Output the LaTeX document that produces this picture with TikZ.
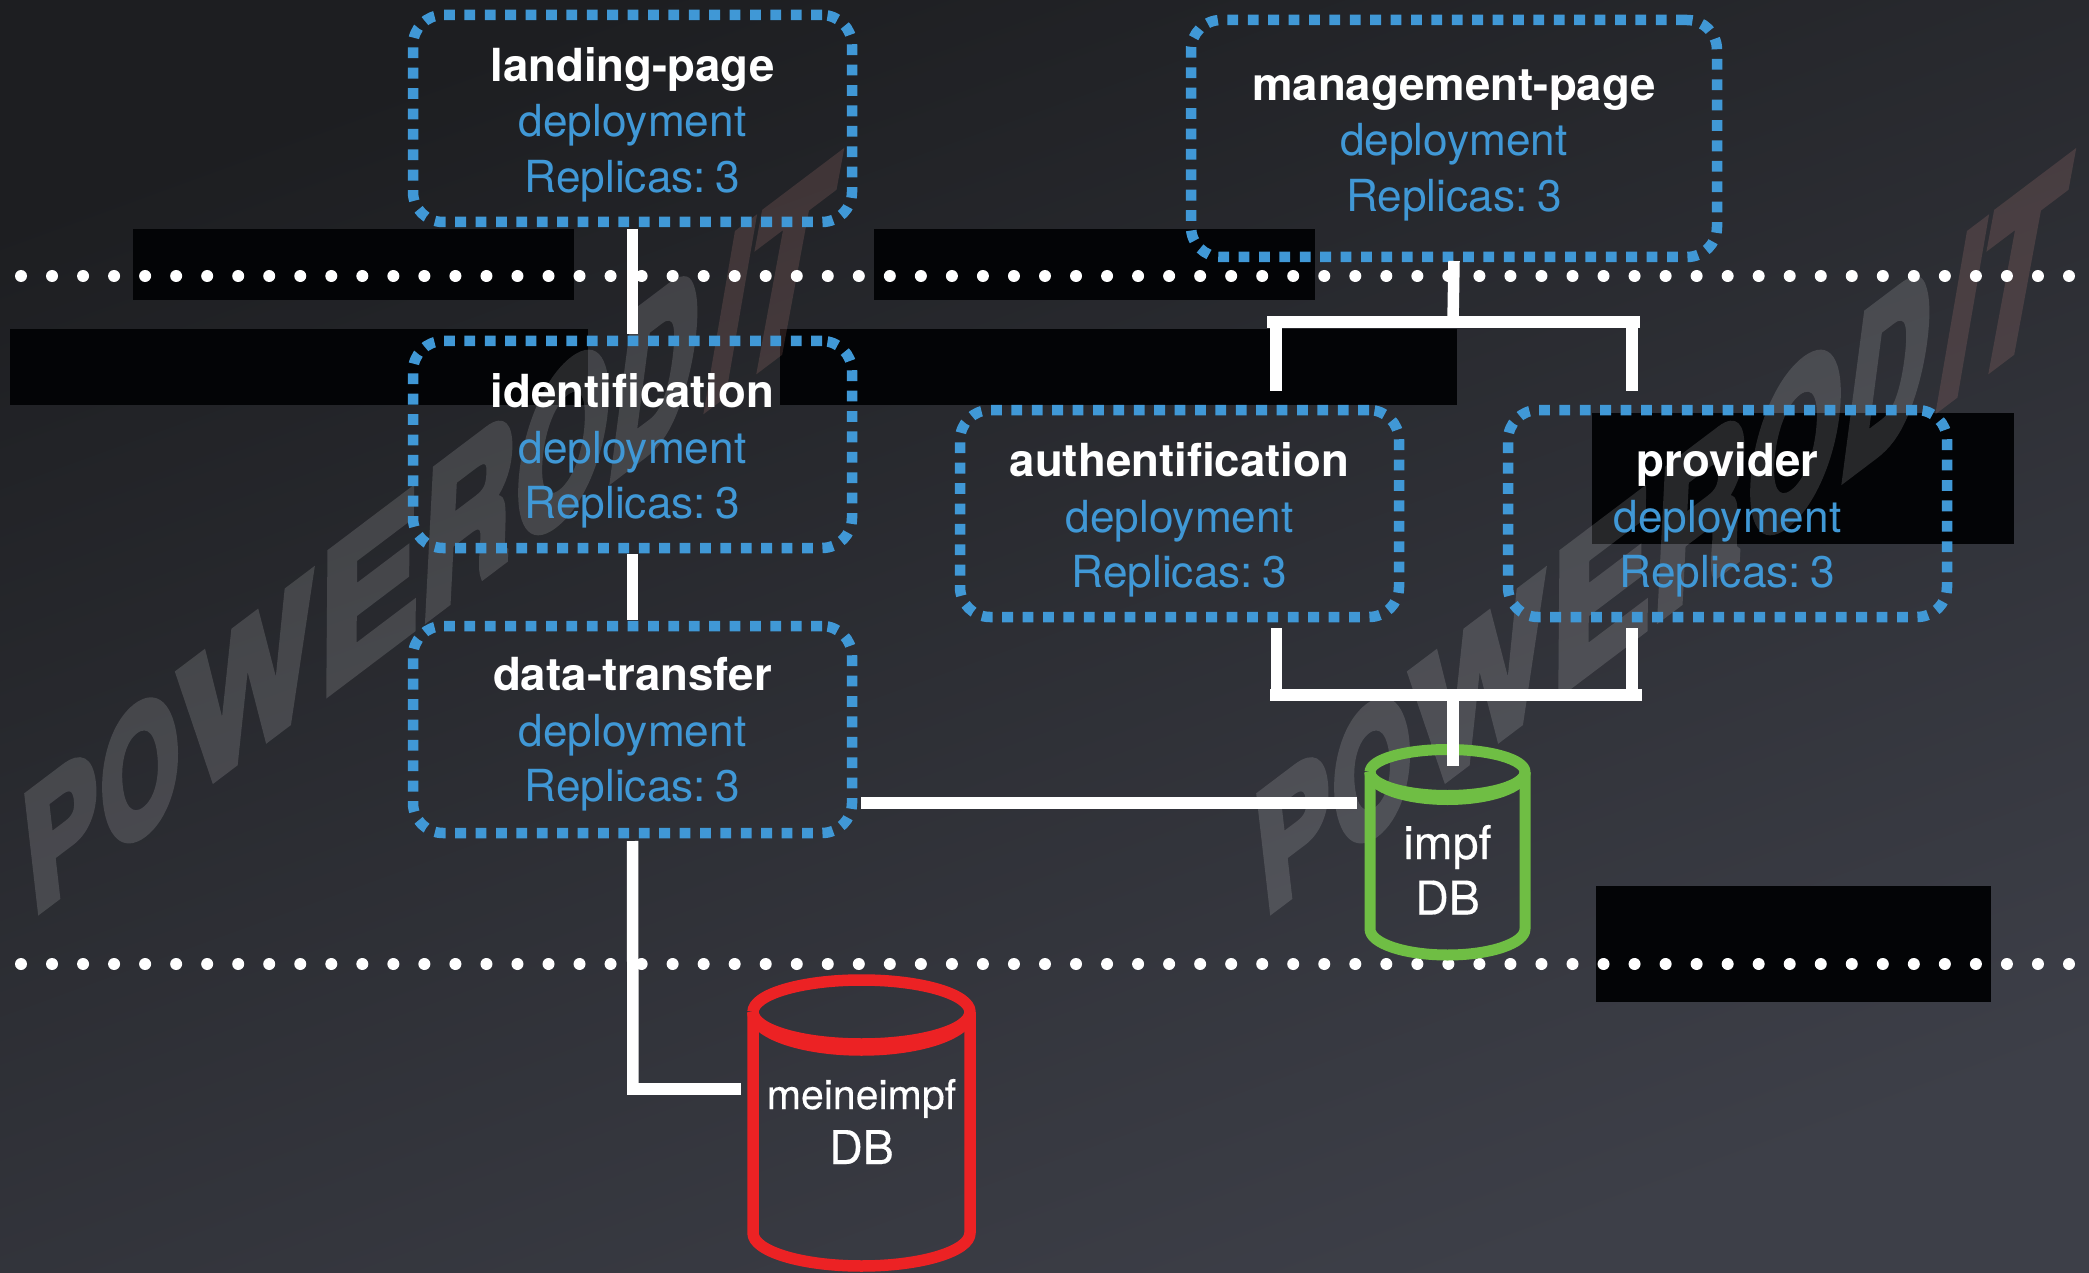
\documentclass[tikz,border=0pt]{standalone}
\usepackage{fontspec}
\setmainfont{TeX Gyre Heros}
\newfontfamily\wmfont[FakeBold=5]{TeX Gyre Heros}
\newfontfamily\dbfont[FakeBold=0.3]{TeX Gyre Heros}
\definecolor{bgtop}{HTML}{1D1E21}
\definecolor{bgbot}{HTML}{3D3F48}
\definecolor{patch}{HTML}{030406}
\definecolor{depblue}{HTML}{4098D6}
\definecolor{dbgreen}{HTML}{6FBE44}
\definecolor{dbred}{HTML}{EC2224}
\definecolor{itred}{HTML}{FBA79E}
\newcommand{\boxlines}[2][47pt]{\rule{0pt}{#1}{\fontsize{45.6pt}{55.5pt}\selectfont\bfseries\color{white}#2}\\\textcolor{depblue}{deployment}\\\textcolor{depblue}{Replicas:\hspace{.22em}3}\rule[-10pt]{0pt}{0pt}}
\tikzset{
  depbox/.style={draw=depblue,line width=10.5pt,dash pattern=on 10.8pt off 9.6pt,rounded corners=30pt,
    inner sep=0pt,outer sep=0pt,align=center,minimum height=207pt,minimum width=439pt,
    font=\fontsize{44.2pt}{55.5pt}\selectfont},
  link/.style={draw=white,line width=11.5pt},
  dotline/.style={draw=white,line width=12pt,line cap=round,dash pattern=on 0pt off 31.03pt},
  dbtext/.style={text=white,align=center,inner sep=0pt,font=\fontsize{46.5pt}{56pt}\dbfont\selectfont},
  wm/.style={transform shape,anchor=base west,inner sep=0pt,
    font=\fontsize{158pt}{158pt}\wmfont\bfseries\selectfont},
}
\begin{document}
\begin{tikzpicture}[x=1pt,y=-1pt]
\useasboundingbox (0,0) rectangle (2089,1273);
% background
\shade[top color=bgtop,bottom color=bgbot,shading angle=20] (0,0) rectangle (2089,1273);
% black patches
\fill[patch] (133,229) rectangle (574,300);
\fill[patch] (874,229) rectangle (1315,300);
\fill[patch] (10,329) rectangle (588,405);
\fill[patch] (780,329) rectangle (1457,405);
\fill[patch] (1592,413) rectangle (2014,544);
\fill[patch] (1596,886) rectangle (1991,1002);
% watermark, one letter at a time (it widens towards the right)
\begin{scope}[transparency group,opacity=.14]
\foreach \ox in {0,1232}{
  \foreach \lx/\la/\lt [count=\li] in {32/.70/P,106/.63/O,184/.90/W,318/.95/E,418/.81/R,510/.75/O,604/.72/D,700/.70/I,730/.82/T}{
    \pgfmathsetmacro{\ls}{1+.00075*(\lx-32)}
    \pgfmathsetmacro{\ly}{916-.755*(\lx-32)}
    \pgfmathsetmacro{\lc}{(-.114+.00042*(\lx-32))*\ls}
    \pgfmathsetmacro{\ld}{.993*\ls}
    \pgfmathsetmacro{\lb}{\la*.755}
    \pgfmathsetmacro{\lpx}{\lx+\ox}
    \begin{scope}[shift={(\lpx,\ly)},cm={\la,\lb,\lc,\ld,(0,0)}]
      \node[wm,text=\ifnum\li>7 itred\else white\fi] (wm\ox-\li) at (0,0) {\lt};
    \end{scope}
  }
}
\end{scope}
% dotted lines
\coordinate (dotAl) at (21,276);
\coordinate (dotAr) at (2075,276);
\coordinate (dotBl) at (21,964);
\coordinate (dotBr) at (2075,964);
\draw[dotline] (dotAl) -- (dotAr);
\draw[dotline] (dotBl) -- (dotBr);
% deployment boxes
\node[depbox] (landing) at (632.5,118.5) {\boxlines{landing-page}};
\node[depbox] (ident) at (632.5,444.5) {\boxlines{identification}};
\node[depbox] (data) at (632.5,729.5) {\boxlines[43pt]{data-transfer}};
\node[depbox,minimum width=526pt,minimum height=237pt] (mgmt) at (1454,138.5) {\boxlines[45pt]{management-page}};
\node[depbox] (auth) at (1179.5,513.5) {\boxlines{authentification}};
\node[depbox] (prov) at (1727.5,513.5) {\boxlines{provider}};
% db labels
\node[dbtext,anchor=base] (impf) at (1447.5,859) {impf};
\node[dbtext,anchor=base] (impfb) at (1447.5,914.5) {DB};
\node[dbtext,anchor=base,font=\fontsize{41pt}{50pt}\dbfont\selectfont] (meine) at (861.5,1109) {meineimpf};
\node[dbtext,anchor=base] (meineb) at (861.5,1164) {DB};
% green cylinder
\draw[dbgreen,line width=11pt,line join=round]
  (1370,772) arc[start angle=180,end angle=0,x radius=77.5pt,y radius=22.5pt]
  arc[start angle=0,end angle=-180,x radius=77.5pt,y radius=23.5pt];
\draw[dbgreen,line width=11pt,line join=round]
  (1370,772) arc[start angle=180,end angle=360,x radius=77.5pt,y radius=27.5pt];
\draw[dbgreen,line width=11pt,line join=round]
  (1370,772) -- (1370,929) arc[start angle=180,end angle=360,x radius=77.5pt,y radius=26pt] -- (1525,772);
% red cylinder
\draw[dbred,line width=11.5pt,line join=round]
  (753,1012) arc[start angle=180,end angle=0,x radius=108.5pt,y radius=32pt]
  arc[start angle=0,end angle=-180,x radius=108.5pt,y radius=32pt];
\draw[dbred,line width=11.5pt,line join=round]
  (753,1012) arc[start angle=180,end angle=360,x radius=108.5pt,y radius=38pt];
\draw[dbred,line width=11.5pt,line join=round]
  (753,1012) -- (753,1233) arc[start angle=180,end angle=360,x radius=108.5pt,y radius=33pt] -- (970,1012);
% connectors
\coordinate (tjl) at (1267,322);
\coordinate (tjr) at (1640,322);
\coordinate (tjm) at (1453,322);
\coordinate (tbl) at (1276,322);
\coordinate (tbr) at (1632,322);
\coordinate (tel) at (1276,391);
\coordinate (ter) at (1632,391);
\coordinate (bjl) at (1270,695);
\coordinate (bjr) at (1642,695);
\coordinate (bjm) at (1453,695);
\coordinate (bbl) at (1276.5,695);
\coordinate (bbr) at (1632,695);
\coordinate (bsl) at (1276.5,628);
\coordinate (bsr) at (1632,628);
\coordinate (impftop) at (1453,766);
\coordinate (impfleft) at (1357,803);
\coordinate (datar) at (861,803);
\coordinate (bend) at (633,1089);
\coordinate (meineleft) at (741,1089);
\draw[link] ([yshift=-7pt]landing.south) -- ([yshift=7pt]ident.north);
\draw[link] ([yshift=-6pt]ident.south) -- ([yshift=6pt]data.north);
\draw[link] ([yshift=-8pt]data.south) -- (bend |- meineleft);
\draw[link] ([xshift=-6pt]bend) -- (meineleft);
\draw[link] (datar) -- (impfleft);
\draw[link] ([yshift=-4pt]mgmt.south) -- (tjm);
\draw[link] (tjl) -- (tjr);
\draw[link] (tbl) -- (tel);
\draw[link] (tbr) -- (ter);
\draw[link] (bsl) -- (bbl);
\draw[link] (bsr) -- (bbr);
\draw[link] (bjl) -- (bjr);
\draw[link] (bjm) -- (impftop);
\end{tikzpicture}
\end{document}
